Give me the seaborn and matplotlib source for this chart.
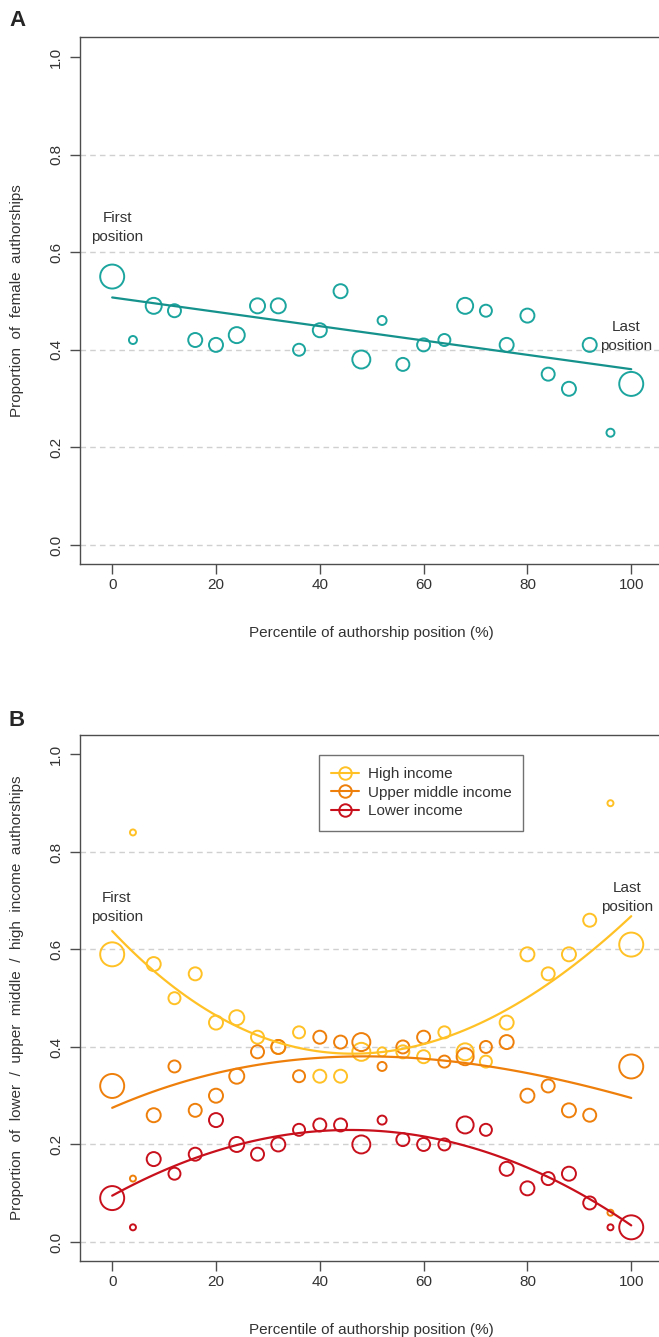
import matplotlib
matplotlib.use('Agg')
import matplotlib.pyplot as plt
from matplotlib.lines import Line2D
import numpy as np
import seaborn as sns

sns.set_theme(style='white')
plt.rcParams['font.family'] = ['Liberation Sans', 'DejaVu Sans']

# percentile of authorship position (shared x for both panels)
position = [0, 4, 8, 12, 16, 20, 24, 28, 32, 36, 40, 44, 48,
            52, 56, 60, 64, 68, 72, 76, 80, 84, 88, 92, 96, 100]

# panel A: proportion of female authorships
female = [0.55, 0.42, 0.49, 0.48, 0.42, 0.41, 0.43, 0.49, 0.49, 0.40, 0.44, 0.52, 0.38,
          0.46, 0.37, 0.41, 0.42, 0.49, 0.48, 0.41, 0.47, 0.35, 0.32, 0.41, 0.23, 0.33]

# panel B: income groups
high_income = [0.59, 0.84, 0.57, 0.50, 0.55, 0.45, 0.46, 0.42, 0.40, 0.43, 0.34, 0.34, 0.39,
               0.39, 0.39, 0.38, 0.43, 0.39, 0.37, 0.45, 0.59, 0.55, 0.59, 0.66, 0.90, 0.61]
upper_middle = [0.32, 0.13, 0.26, 0.36, 0.27, 0.30, 0.34, 0.39, 0.40, 0.34, 0.42, 0.41, 0.41,
                0.36, 0.40, 0.42, 0.37, 0.38, 0.40, 0.41, 0.30, 0.32, 0.27, 0.26, 0.06, 0.36]
lower = [0.09, 0.03, 0.17, 0.14, 0.18, 0.25, 0.20, 0.18, 0.20, 0.23, 0.24, 0.24, 0.20,
         0.25, 0.21, 0.20, 0.20, 0.24, 0.23, 0.15, 0.11, 0.13, 0.14, 0.08, 0.03, 0.03]

# fitted trend lines
fit_a_x = [0, 50, 100]
fit_a_y = [0.507, 0.434, 0.360]
fit_high_x = [0, 8, 20, 28, 36, 44, 52, 60, 64, 72, 80, 88, 100]
fit_high_y = [0.631, 0.572, 0.455, 0.421, 0.397, 0.389, 0.392, 0.408, 0.421, 0.452, 0.498, 0.561, 0.669]
fit_upper_x = [0, 10, 20, 40, 60, 72, 80, 90, 100]
fit_upper_y = [0.276, 0.315, 0.346, 0.377, 0.377, 0.365, 0.344, 0.319, 0.298]
fit_lower_x = [0, 10, 20, 30, 40, 48, 56, 60, 72, 80, 88, 100]
fit_lower_y = [0.093, 0.148, 0.191, 0.209, 0.231, 0.230, 0.219, 0.214, 0.185, 0.151, 0.120, 0.030]

# marker radius in pixels (reflects number of authorships per position)
radius_a = [12, 4, 8, 6.5, 7, 7, 8, 7.5, 7.5, 6, 7, 7, 9,
            4.5, 6.5, 6.5, 6, 8, 6, 7, 7, 6.5, 7, 7, 4, 12]
radius_b = [12, 3, 7, 6, 6.5, 7, 7.5, 6.5, 7, 6, 6.5, 6.5, 9,
            4.5, 6.5, 6.5, 6, 8.5, 6, 7, 7, 6.5, 7, 6.5, 3, 12]

TEAL = '#1ca59f'
TEAL_LINE = '#16928d'
YELLOW = '#ffc125'
ORANGE = '#ee7f0a'
RED = '#c8101c'
SPINE = '#4d4d4d'
TEXT = '#333333'
FS = 11


def area(radius):
    # pixel radius -> scatter area in pt^2 at 100 dpi
    return (2 * np.array(radius) * 0.72) ** 2


def style_axes(ax, ylabel):
    ax.set_xlim(-6.2, 106.2)
    ax.set_ylim(-0.04, 1.04)
    for y in [0, 0.2, 0.4, 0.6, 0.8]:
        ax.axhline(y, color='#d0d0d0', lw=1, dashes=(4, 3), zorder=0)
    ax.set_xticks([0, 20, 40, 60, 80, 100])
    ax.set_yticks([0, 0.2, 0.4, 0.6, 0.8, 1.0])
    ax.set_yticklabels(['0.0', '0.2', '0.4', '0.6', '0.8', '1.0'],
                       rotation=90, va='center')
    ax.tick_params(bottom=True, left=True, direction='out', length=7, width=1,
                   color=SPINE, labelsize=FS, labelcolor=TEXT)
    ax.tick_params(axis='x', pad=3)
    ax.tick_params(axis='y', pad=5)
    for s in ax.spines.values():
        s.set_color(SPINE)
        s.set_linewidth(1)
    ax.set_xlabel('Percentile of authorship position (%)', fontsize=FS, color=TEXT, labelpad=24)
    ax.set_ylabel(ylabel, fontsize=FS, color=TEXT, labelpad=18)


def dots(ax, y, radius, color):
    sns.scatterplot(x=position, y=y, s=area(radius), facecolor='none',
                    edgecolor=color, linewidth=1.4, ax=ax, zorder=3)


def trend(ax, x, y, order, color):
    sns.regplot(x=x, y=y, order=order, scatter=False, ci=None, ax=ax,
                line_kws=dict(color=color, lw=1.6, zorder=4))


fig = plt.figure(figsize=(6.59, 13.37), dpi=100)
ax_a = fig.add_axes([0.1214, 0.5778, 0.8853, 0.3942])
ax_b = fig.add_axes([0.1214, 0.0565, 0.8853, 0.3938])

# ---- panel A
dots(ax_a, female, radius_a, TEAL)
trend(ax_a, fit_a_x, fit_a_y, 1, TEAL_LINE)
style_axes(ax_a, 'Proportion  of  female  authorships')
ax_a.text(1.0, 0.65, 'First\nposition', ha='center', va='center', fontsize=FS,
          color=TEXT, linespacing=1.45)
ax_a.text(99.1, 0.428, 'Last\nposition', ha='center', va='center', fontsize=FS,
          color=TEXT, linespacing=1.45)

# ---- panel B
dots(ax_b, high_income, radius_b, YELLOW)
dots(ax_b, upper_middle, radius_b, ORANGE)
dots(ax_b, lower, radius_b, RED)
trend(ax_b, fit_high_x, fit_high_y, 3, YELLOW)
trend(ax_b, fit_upper_x, fit_upper_y, 3, ORANGE)
trend(ax_b, fit_lower_x, fit_lower_y, 3, RED)
style_axes(ax_b, 'Proportion  of  lower  /  upper  middle  /  high  income  authorships')
ax_b.text(0.9, 0.687, 'First\nposition', ha='center', va='center', fontsize=FS,
          color=TEXT, linespacing=1.45)
ax_b.text(99.2, 0.706, 'Last\nposition', ha='center', va='center', fontsize=FS,
          color=TEXT, linespacing=1.45)

handles = [Line2D([], [], color=c, lw=1.5, marker='o', markersize=9,
                  markerfacecolor='none', markeredgewidth=1.4)
           for c in [YELLOW, ORANGE, RED]]
leg = ax_b.legend(handles, ['High income', 'Upper middle income', 'Lower income'],
                  loc='upper left', bbox_to_anchor=(0.409, 0.962), borderaxespad=0,
                  fontsize=FS, frameon=True, fancybox=False, handlelength=1.85,
                  borderpad=0.8, labelspacing=0.3, handletextpad=0.55)
leg.get_frame().set_edgecolor(SPINE)
leg.get_frame().set_linewidth(1)
for t in leg.get_texts():
    t.set_color(TEXT)

fig.text(9 / 659, 1 - 20 / 1337, 'A', fontsize=16, fontweight='bold', va='center', ha='left')
fig.text(9 / 659, 1 - 721 / 1337, 'B', fontsize=16, fontweight='bold', va='center', ha='left')

fig.savefig('out.png', dpi=100)
